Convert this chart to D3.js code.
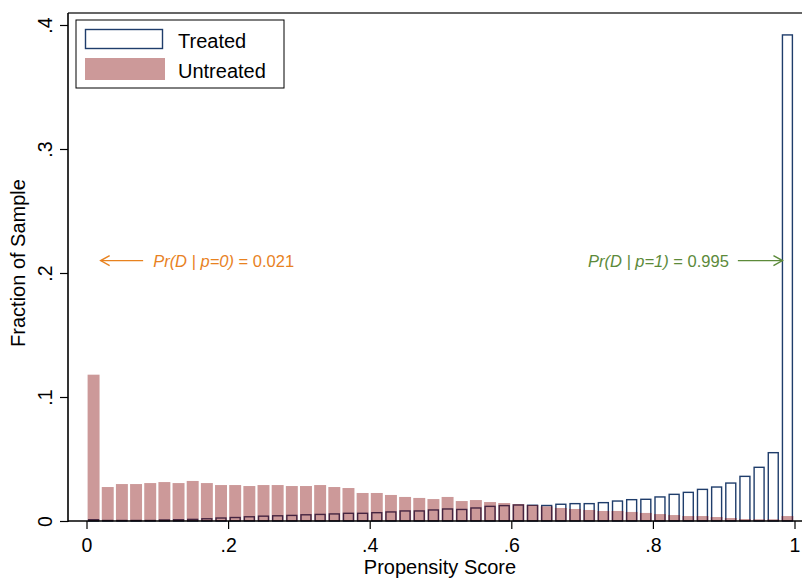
<!DOCTYPE html>
<html>
<head>
<meta charset="utf-8">
<script src="https://cdnjs.cloudflare.com/ajax/libs/d3/7.8.5/d3.min.js"></script>
<style>
  body { margin: 0; background: #fff; }
  svg { font-family: "Liberation Sans", Arial, Helvetica, sans-serif; }
</style>
</head>
<body>
<svg id="main"></svg>
<script>
// bins of width .02, starting at 0
var binStarts = [0, .02, .04, .06, .08, .10, .12, .14, .16, .18,
                 .20, .22, .24, .26, .28, .30, .32, .34, .36, .38,
                 .40, .42, .44, .46, .48, .50, .52, .54, .56, .58,
                 .60, .62, .64, .66, .68, .70, .72, .74, .76, .78,
                 .80, .82, .84, .86, .88, .90, .92, .94, .96, .98];
var binWidth = 0.02;

var treated = [0.001, 0, 0, 0, 0.0003, 0.0008, 0.001, 0.0013, 0.0018, 0.0024,
               0.0028, 0.0034, 0.0039, 0.0042, 0.0045, 0.005, 0.0053, 0.0057, 0.0062, 0.0062,
               0.0067, 0.0073, 0.0081, 0.0081, 0.0089, 0.0097, 0.0093, 0.0105, 0.0118, 0.0124,
               0.0129, 0.0127, 0.0125, 0.0135, 0.014, 0.014, 0.0148, 0.0161, 0.0172, 0.0175,
               0.0194, 0.0215, 0.0231, 0.0255, 0.0274, 0.0306, 0.036, 0.0433, 0.0551, 0.392];

var untreated = [0.118, 0.0274, 0.0298, 0.0298, 0.0306, 0.0314, 0.0306, 0.0323, 0.0306, 0.029,
                 0.029, 0.0282, 0.029, 0.029, 0.0282, 0.0282, 0.029, 0.0274, 0.0266, 0.0226,
                 0.0226, 0.021, 0.0194, 0.0186, 0.0177, 0.0194, 0.0161, 0.0169, 0.0153, 0.0145,
                 0.0137, 0.0129, 0.0118, 0.0105, 0.0097, 0.0089, 0.0081, 0.0081, 0.0073, 0.0065,
                 0.0056, 0.0048, 0.004, 0.004, 0.0032, 0.0024, 0.0016, 0.0014, 0.0014, 0.004];

var xTicks = [0, .2, .4, .6, .8, 1];
var xTickLabels = ["0", ".2", ".4", ".6", ".8", "1"];
var yTicks = [0, .1, .2, .3, .4];
var yTickLabels = ["0", ".1", ".2", ".3", ".4"];

var navy = "#1f3d6b",
    maroon = "#800000",
    orange = "#e8821f",
    green = "#5c8a3a";

var width = 802, height = 579;
var svg = d3.select("#main")
    .attr("width", width)
    .attr("height", height);

var x = d3.scaleLinear()
    .domain([0, 1])
    .range([86.5, 794.5]);
var y = d3.scaleLinear()
    .domain([0, 0.4])
    .range([521, 25]);

var bw = x(binWidth) - x(0);

// treated: outlined bars, drawn first
svg.append("g")
    .selectAll("rect")
    .data(treated)
    .enter()
    .append("rect")
      .attr("x", function (d, i) { return x(binStarts[i]) + 2.1; })
      .attr("width", bw - 4.2)
      .attr("y", function (d) { return Math.min(y(d), y(0) - 0.5); })
      .attr("height", function (d) { return Math.max(y(0) - y(d), 0.5); })
      .attr("fill", "none")
      .attr("stroke", navy)
      .attr("stroke-width", 1.4);

// untreated: translucent maroon on top
svg.append("g")
    .selectAll("rect")
    .data(untreated)
    .enter()
    .append("rect")
      .attr("x", function (d, i) { return x(binStarts[i]) + 1.1; })
      .attr("width", bw - 2.2)
      .attr("y", function (d) { return y(d); })
      .attr("height", function (d) { return y(0) - y(d); })
      .attr("fill", maroon)
      .attr("fill-opacity", 0.4);

// frame: top line, left axis, bottom axis
svg.append("line")
    .attr("x1", 68).attr("x2", width)
    .attr("y1", 13).attr("y2", 13)
    .attr("stroke", "#333").attr("stroke-width", 1.5);

var xAxis = svg.append("g")
    .attr("transform", "translate(0," + 521 + ")")
    .call(d3.axisBottom(x)
        .tickValues(xTicks)
        .tickSize(8)
        .tickSizeOuter(0)
        .tickFormat(function (d, i) { return xTickLabels[i]; }));
xAxis.select(".domain").remove();
xAxis.append("line")
    .attr("x1", 68).attr("x2", width)
    .attr("stroke", "#000").attr("stroke-width", 1.6);
xAxis.selectAll(".tick line").attr("stroke", "#000").attr("stroke-width", 1.2);
xAxis.selectAll(".tick text")
    .attr("y", 31).attr("dy", 0)
    .attr("fill", "#000")
    .style("font-size", "19.5px")
    .style("font-family", "'Liberation Sans', Arial, sans-serif");

var yAxis = svg.append("g")
    .attr("transform", "translate(68,0)")
    .call(d3.axisLeft(y)
        .tickValues(yTicks)
        .tickSize(8)
        .tickSizeOuter(0)
        .tickFormat(function (d, i) { return yTickLabels[i]; }));
yAxis.select(".domain").remove();
yAxis.append("line")
    .attr("y1", 13).attr("y2", 522)
    .attr("stroke", "#000").attr("stroke-width", 1.6);
yAxis.selectAll(".tick line").attr("stroke", "#000").attr("stroke-width", 1.2);
yAxis.selectAll(".tick text")
    .attr("transform", "rotate(-90)")
    .attr("x", 0).attr("y", -16).attr("dy", 0)
    .style("text-anchor", "middle")
    .attr("fill", "#000")
    .style("font-size", "19.5px")
    .style("font-family", "'Liberation Sans', Arial, sans-serif");

// axis titles
svg.append("text")
    .attr("x", 440).attr("y", 574)
    .style("text-anchor", "middle")
    .style("font-size", "20px")
    .text("Propensity Score");

svg.append("text")
    .attr("transform", "translate(25,263) rotate(-90)")
    .style("text-anchor", "middle")
    .style("font-size", "20px")
    .text("Fraction of Sample");

// annotations
function arrow(x1, x2, yv, color) {
    var dir = x2 > x1 ? 1 : -1;
    var px1 = x(x1), px2 = x(x2), py = y(yv);
    var g = svg.append("g")
        .attr("stroke", color).attr("stroke-width", 1.4).attr("fill", "none");
    g.append("line").attr("x1", px1).attr("x2", px2).attr("y1", py).attr("y2", py);
    g.append("path")
        .attr("d", "M" + (px2 - dir * 9) + "," + (py - 5) + "L" + px2 + "," + py +
                   "L" + (px2 - dir * 9) + "," + (py + 5));
}

arrow(0.08, 0.02, 0.21, orange);
var t0 = svg.append("text")
    .attr("x", x(0.08) + 10).attr("y", y(0.21) + 6.5)
    .attr("fill", orange)
    .style("font-size", "16.5px");
t0.append("tspan").style("font-style", "italic").text("Pr(D | p=0)");
t0.append("tspan").text(" = 0.021");

arrow(0.92, 0.983, 0.21, green);
var t1 = svg.append("text")
    .attr("x", x(0.92) - 9).attr("y", y(0.21) + 6.5)
    .attr("fill", green)
    .style("text-anchor", "end")
    .style("font-size", "16.5px");
t1.append("tspan").style("font-style", "italic").text("Pr(D | p=1)");
t1.append("tspan").text(" = 0.995");

// legend
var legend = svg.append("g");
legend.append("rect")
    .attr("x", 76).attr("y", 20).attr("width", 208).attr("height", 68)
    .attr("fill", "#fff").attr("stroke", "#000").attr("stroke-width", 1);
legend.append("rect")
    .attr("x", 85.5).attr("y", 29.5).attr("width", 77).attr("height", 19)
    .attr("fill", "#fff").attr("stroke", navy).attr("stroke-width", 1.4);
legend.append("rect")
    .attr("x", 85).attr("y", 58).attr("width", 80).attr("height", 22)
    .attr("fill", maroon).attr("fill-opacity", 0.4);
legend.append("text")
    .attr("x", 178).attr("y", 48)
    .style("font-size", "20px")
    .text("Treated");
legend.append("text")
    .attr("x", 178).attr("y", 78)
    .style("font-size", "20px")
    .text("Untreated");
</script>
</body>
</html>
